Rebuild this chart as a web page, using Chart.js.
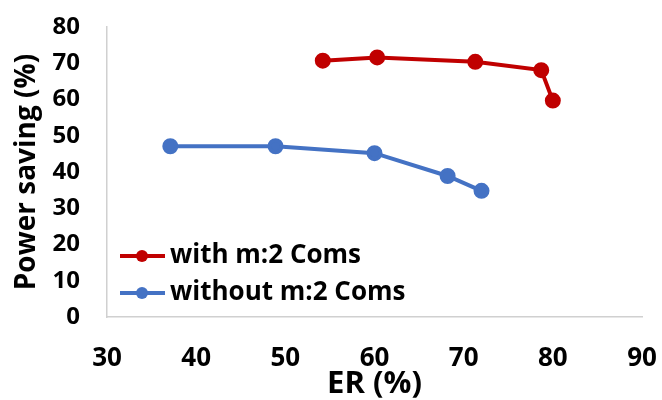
<!DOCTYPE html>
<html>
<head>
<meta charset="utf-8">
<script src="https://cdn.jsdelivr.net/npm/chart.js@4"></script>
<style>
  html, body { margin: 0; padding: 0; background: #fff; }
  #wrap { width: 662px; height: 400px; }
</style>
</head>
<body>
<div id="wrap"><canvas id="chart" width="662" height="400"></canvas></div>
<script>
// values
const withLabel = 'with m:2 Coms';
const withER = [54.2, 60.3, 71.3, 78.7, 80.0];
const withSaving = [70.7, 71.6, 70.4, 68.1, 59.7];

const withoutLabel = 'without m:2 Coms';
const withoutER = [37.1, 48.9, 60.0, 68.2, 72.0];
const withoutSaving = [47.1, 47.1, 45.2, 38.9, 34.8];

const xTicks = [30, 40, 50, 60, 70, 80, 90];
const yTicks = [0, 10, 20, 30, 40, 50, 60, 70, 80];

const FONT = '"Open Sans", Lato, sans-serif';

function points(xs, ys) {
  return xs.map((x, i) => ({ x: x, y: ys[i] }));
}

// legend drawn inside the plot, lower left, like the original
const innerLegend = {
  id: 'innerLegend',
  afterDatasetsDraw(chart) {
    const ctx = chart.ctx;
    const area = chart.chartArea;
    const rows = [area.bottom - 61, area.bottom - 24];
    ctx.save();
    chart.data.datasets.forEach((ds, i) => {
      const y = rows[i];
      const x0 = area.left + 13;
      ctx.strokeStyle = ds.borderColor;
      ctx.lineWidth = 4;
      ctx.beginPath();
      ctx.moveTo(x0, y);
      ctx.lineTo(x0 + 45, y);
      ctx.stroke();
      ctx.fillStyle = ds.borderColor;
      ctx.beginPath();
      ctx.arc(x0 + 22, y, 6, 0, Math.PI * 2);
      ctx.fill();
      ctx.fillStyle = '#000';
      ctx.font = 'bold 26px ' + FONT;
      ctx.textBaseline = 'middle';
      ctx.fillText(ds.label, x0 + 50, y);
    });
    ctx.restore();
  }
};

new Chart(document.getElementById('chart'), {
  type: 'scatter',
  data: {
    datasets: [
      {
        label: withLabel,
        data: points(withER, withSaving),
        showLine: true,
        borderColor: '#C00000',
        backgroundColor: '#C00000',
        borderWidth: 4,
        pointRadius: 6,
        pointHoverRadius: 6
      },
      {
        label: withoutLabel,
        data: points(withoutER, withoutSaving),
        showLine: true,
        borderColor: '#4472C4',
        backgroundColor: '#4472C4',
        borderWidth: 4,
        pointRadius: 6,
        pointHoverRadius: 6
      }
    ]
  },
  options: {
    responsive: false,
    animation: false,
    layout: { padding: { top: 27, right: 20, left: 0, bottom: 0 } },
    plugins: {
      legend: { display: false },
      tooltip: { enabled: false }
    },
    scales: {
      x: {
        type: 'linear',
        min: xTicks[0],
        max: xTicks[xTicks.length - 1],
        afterBuildTicks: s => { s.ticks = xTicks.map(v => ({ value: v })); },
        afterFit: s => { s.height = 83; s.paddingLeft = 0; s.paddingRight = 0; },
        grid: { display: false, drawTicks: false },
        border: { color: '#d0d0d0', width: 1.5 },
        ticks: {
          color: '#000',
          padding: 26,
          maxRotation: 0,
          font: { family: FONT, size: 26, weight: 'bold' }
        },
        title: {
          display: true,
          text: 'ER (%)',
          color: '#000',
          padding: { top: 0, bottom: 0 },
          font: { family: FONT, size: 31, weight: 'bold', lineHeight: 1 }
        }
      },
      y: {
        min: yTicks[0],
        max: yTicks[yTicks.length - 1],
        afterBuildTicks: s => { s.ticks = yTicks.map(v => ({ value: v })); },
        afterFit: s => { s.width = 107; s.paddingTop = 0; s.paddingBottom = 0; },
        grid: { display: false, drawTicks: false },
        border: { color: '#d0d0d0', width: 1.5 },
        ticks: {
          color: '#000',
          padding: 27,
          font: { family: FONT, size: 24, weight: 'bold' }
        },
        title: {
          display: true,
          text: 'Power saving (%)',
          color: '#000',
          padding: { top: 10, bottom: 0 },
          font: { family: FONT, size: 28, weight: 'bold' }
        }
      }
    }
  },
  plugins: [innerLegend]
});
</script>
</body>
</html>
